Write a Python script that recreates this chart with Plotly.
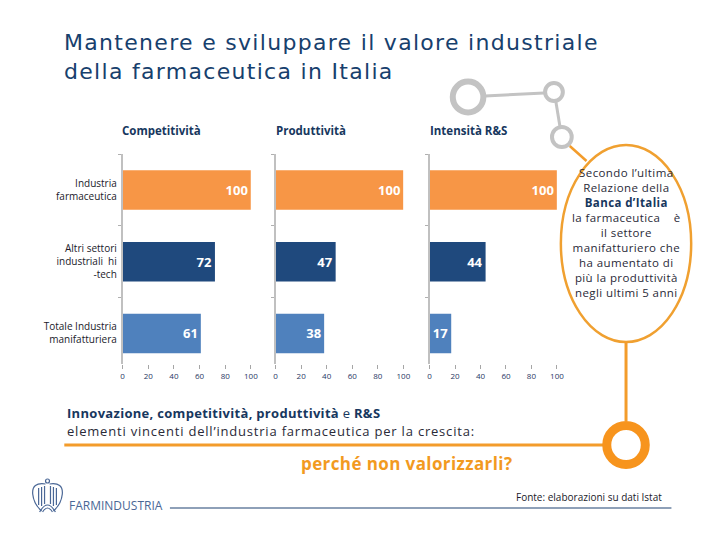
import plotly.graph_objects as go

# ---------------- data ----------------
categories = ["Industria<br>farmaceutica",
              "Altri settori<br>industriali  hi<br>-tech",
              "Totale Industria<br>manifatturiera"]
competitivita = [100, 72, 61]
produttivita = [100, 47, 38]
intensita_rs = [100, 44, 17]
panel_titles = ["Competitività", "Produttività", "Intensità R&S"]
x_ticks = [0, 20, 40, 60, 80, 100]

bar_colors = ["#F79646", "#1F497D", "#4F81BD"]
NAVY = "#17406D"
OFF = 8                      # page body margin
W, H = 720 - 2 * OFF, 540 - 2 * OFF


def px(x):
    return (x - OFF) / W


def py(y):
    return 1 - (y - OFF) / H


def path(cmds):
    out = []
    for c in cmds:
        if isinstance(c, str):
            out.append(c)
        else:
            out.append(f"{px(c[0]):.5f},{py(c[1]):.5f}")
    return " ".join(out)


def ls(text, sp):
    return f"<span style='letter-spacing:{sp}px'>{text}</span>"


fig = go.Figure()
series = [competitivita, produttivita, intensita_rs]
for i, vals in enumerate(series):
    sfx = "" if i == 0 else str(i + 1)
    fig.add_trace(go.Bar(
        y=categories, x=vals, orientation="h",
        marker=dict(color=bar_colors, line=dict(width=0)),
        texttemplate="<b>%{x}</b>", textposition="inside",
        insidetextanchor="end",
        textfont=dict(color="white", size=13, family="Open Sans"),
        xaxis="x" + sfx, yaxis="y" + sfx, showlegend=False,
        hoverinfo="skip",
    ))

x_domains = [[px(122), px(252)], [px(277), px(406.5)], [px(433), px(562)]]
y_domain = [py(364), py(154)]

layout = dict(
    width=W, height=H, margin=dict(l=0, r=0, t=0, b=0),
    paper_bgcolor="white", plot_bgcolor="rgba(0,0,0,0)",
    bargap=0.45,
    font=dict(family="Open Sans", color="#1a1a2a"),
)
for i in range(3):
    sfx = "" if i == 0 else str(i + 1)
    layout["xaxis" + sfx] = dict(
        domain=x_domains[i], range=[0, 100], anchor="y" + sfx,
        showline=False, showgrid=False, zeroline=False,
        ticks="outside", ticklen=4, tickcolor="#A6A6A6", tickwidth=1,
        tickvals=x_ticks, tickfont=dict(size=8, color="#1F3864", family="Open Sans"),
        fixedrange=True,
    )
    layout["yaxis" + sfx] = dict(
        domain=y_domain, anchor="x" + sfx, type="category",
        categoryorder="array", categoryarray=categories,
        range=[2.425, -0.5],
        showline=True, linecolor="#C0C0C0", linewidth=1.5,
        showgrid=False, zeroline=False,
        ticks="outside", tickson="boundaries", ticklen=3,
        tickcolor="#B0B0B0", tickwidth=1,
        showticklabels=(i == 0), ticklabelstandoff=2,
        tickfont=dict(size=10, color="#1a1a2a", family="Open Sans"),
    )
fig.update_layout(**layout)

ann = []
# title
ann.append(dict(x=px(61), y=py(57), xref="paper", yref="paper",
                xanchor="left", yanchor="middle", align="left",
                text=ls("Mantenere e sviluppare il valore industriale", 1.3) + "<br>" +
                     ls("della farmaceutica in Italia", 1.3),
                font=dict(size=22, color=NAVY, family="DejaVu Sans"), showarrow=False))
# panel titles
for t, x0 in zip(panel_titles, [119, 275, 431]):
    ann.append(dict(x=px(x0), y=py(131), xref="paper", yref="paper",
                    xanchor="left", yanchor="middle",
                    text=f"<b>{t}</b>", font=dict(size=11.5, color="#17375E", family="Open Sans"),
                    showarrow=False))
# callout text
callout_lines = ["Secondo l’ultima", "Relazione della",
                 "<b><span style='color:#17375E'>Banca d’Italia</span></b>",
                 "la farmaceutica    è", "il settore", "manifatturiero che",
                 "ha aumentato di", "più la produttività", "negli ultimi 5 anni"]
ann.append(dict(x=px(632), y=py(232), xref="paper", yref="paper",
                xanchor="center", yanchor="middle", align="center",
                text="<br>".join(ls(s, 0.4) for s in callout_lines),
                font=dict(size=11.5, color="#2a2a38", family="Open Sans"), showarrow=False))
# bottom texts
ann.append(dict(x=px(64), y=py(413), xref="paper", yref="paper",
                xanchor="left", yanchor="middle",
                text=ls("<b>Innovazione, competitività, produttività</b> e <b>R&S</b>", 0.3),
                font=dict(size=13, color="#17375E", family="Open Sans"), showarrow=False))
ann.append(dict(x=px(64), y=py(431), xref="paper", yref="paper",
                xanchor="left", yanchor="middle",
                text=ls("elementi vincenti dell’industria farmaceutica per la crescita:", 0.8),
                font=dict(size=13, color="#2a2a38", family="Open Sans"), showarrow=False))
ann.append(dict(x=px(410), y=py(463), xref="paper", yref="paper",
                xanchor="center", yanchor="middle",
                text=ls("<b>perché non valorizzarli?</b>", 0.4),
                font=dict(size=17, color="#F29A1F", family="Open Sans"), showarrow=False))
ann.append(dict(x=px(670), y=py(497), xref="paper", yref="paper",
                xanchor="right", yanchor="middle",
                text="Fonte: elaborazioni su dati Istat",
                font=dict(size=10, color="#1a1a2a", family="Open Sans"), showarrow=False))
ann.append(dict(x=px(66), y=py(505), xref="paper", yref="paper",
                xanchor="left", yanchor="middle",
                text="FARMINDUSTRIA",
                font=dict(size=12, color="#4A6796", family="Open Sans"), showarrow=False))
fig.update_layout(annotations=ann)

GRAY = "#C3C3C3"
ORANGE = "#F39C2B"
shapes = []


def circle(cx, cy, r, color, w):
    return dict(type="circle", xref="paper", yref="paper",
                x0=px(cx - r), x1=px(cx + r), y0=py(cy + r), y1=py(cy - r),
                line=dict(color=color, width=w), fillcolor="rgba(0,0,0,0)")


def line(x0, y0, x1, y1, color, w):
    return dict(type="line", xref="paper", yref="paper",
                x0=px(x0), x1=px(x1), y0=py(y0), y1=py(y1),
                line=dict(color=color, width=w))


# gray molecule decoration
shapes.append(line(489, 96, 549, 93, GRAY, 3))
shapes.append(line(561, 102, 565, 126, GRAY, 3))
shapes.append(circle(472, 97, 15.5, GRAY, 6))
shapes.append(circle(559, 92, 9, GRAY, 4))
shapes.append(circle(567, 137, 10, GRAY, 4))
shapes.append(line(575, 146, 592, 161, ORANGE, 2.5))
# oval callout
shapes.append(dict(type="circle", xref="paper", yref="paper",
                   x0=px(566), x1=px(698), y0=py(342), y1=py(145),
                   line=dict(color="#F0A030", width=2.5), fillcolor="rgba(0,0,0,0)"))
shapes.append(line(632, 342, 632, 421, ORANGE, 3))
shapes.append(line(63, 445, 610, 445, ORANGE, 3))
shapes.append(circle(632, 445, 19.5, "#F7941D", 9))
# bottom gray line
shapes.append(line(170, 508, 678, 508, "#8EA0B8", 2))
# simple logo mark
LOGO = "#4A6796"
logo_paths = [
    ["M", (44, 484), "Q", (30, 482), (31, 494), "Q", (32, 504), (40, 511)],
    ["M", (48, 484), "Q", (62, 482), (61, 494), "Q", (60, 504), (52, 511)],
    ["M", (37, 488), "L", (37, 505)],
    ["M", (40, 487), "L", (40, 506)],
    ["M", (43, 486), "L", (43, 504)],
    ["M", (49, 486), "L", (49, 504)],
    ["M", (52, 487), "L", (52, 506)],
    ["M", (55, 488), "L", (55, 505)],
    ["M", (38, 512), "Q", (46, 498), (54, 512)],
    ["M", (41, 512), "Q", (46, 504), (51, 512)],
]
for p in logo_paths:
    shapes.append(dict(type="path", xref="paper", yref="paper", path=path(p),
                       line=dict(color=LOGO, width=1.2)))
shapes.append(circle(46, 481, 2, LOGO, 1.2))
fig.update_layout(shapes=shapes)

fig.write_html("out.html")
